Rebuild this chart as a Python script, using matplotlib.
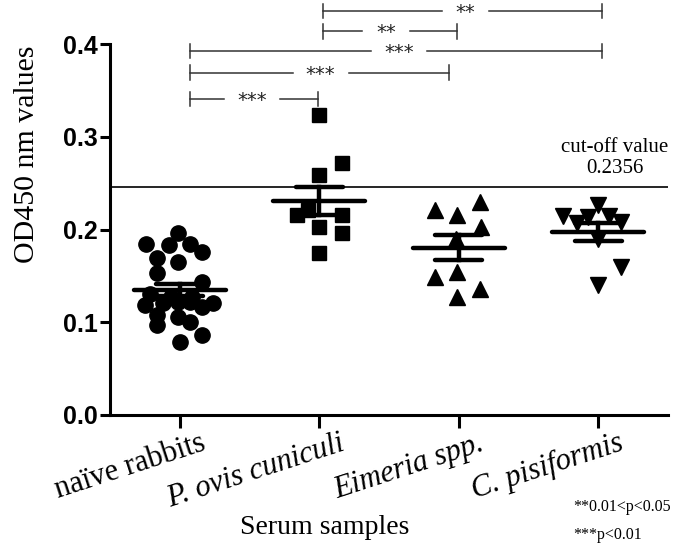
import matplotlib
matplotlib.use("Agg")
import matplotlib.pyplot as plt
import matplotlib.transforms as mtransforms
import numpy as np

categories = ["naïve rabbits", "P. ovis cuniculi", "Eimeria spp.", "C. pisiformis"]
cat_italic = [False, True, True, True]

naive_x = [-0.01, -0.24, -0.08, 0.07, 0.16, -0.16, -0.01, -0.16, 0.16,
           -0.21, -0.25, -0.12, -0.01, 0.07, 0.16, 0.24, -0.16, -0.01, 0.07,
           -0.16, 0.16, 0.00, -0.06, 0.09]
naive_y = [0.196, 0.184, 0.183, 0.184, 0.176, 0.169, 0.165, 0.153, 0.143,
           0.131, 0.119, 0.121, 0.122, 0.122, 0.117, 0.121, 0.108, 0.106, 0.100,
           0.097, 0.086, 0.079, 0.127, 0.127]
povis_x = [0.0, 0.16, 0.0, -0.16, -0.08, 0.0, 0.16, 0.16, 0.0]
povis_y = [0.3235, 0.2717, 0.2588, 0.2156, 0.2210, 0.2027, 0.2156, 0.1962, 0.1747]
eim_x = [0.15, -0.17, -0.01, 0.16, -0.02, -0.01, -0.17, 0.15, -0.01]
eim_y = [0.230, 0.221, 0.2156, 0.2027, 0.190, 0.154, 0.149, 0.1358, 0.127]
cpis_x = [0.0, -0.25, -0.15, -0.07, 0.08, 0.16, 0.0, 0.16, 0.0]
cpis_y = [0.2264, 0.2146, 0.207, 0.214, 0.2146, 0.208, 0.190, 0.1596, 0.140]

cutoff_line = 0.246
cutoff_label = "cut-off value\n0.2356"

# significance brackets: (x_start, x_end, y, label)
brackets = [(1.03, 3.03, 0.4356, "**"),
            (1.03, 1.99, 0.414, "**"),
            (0.07, 3.03, 0.3925, "***"),
            (0.07, 1.93, 0.369, "***"),
            (0.07, 0.99, 0.3407, "***")]
bracket_label_x = [2.05, 1.48, 1.57, 1.01, 0.52]

yticks = [0.0, 0.1, 0.2, 0.3, 0.4]

plt.rcParams['font.family'] = ['Liberation Serif', 'DejaVu Serif']

fig = plt.figure(figsize=(6.75, 5.55), dpi=100)
ax = fig.add_axes([110/675, 140/555, 558/675, 408/555])
ax.set_xlim(-0.5, 3.5)
ax.set_ylim(0, 0.44)

groups = [(naive_x, naive_y, 'o', 11), (povis_x, povis_y, 's', 10.5),
          (eim_x, eim_y, '^', 11.5), (cpis_x, cpis_y, 'v', 11.5)]
for i, (gx, gy, mk, ms) in enumerate(groups):
    gx = np.array(gx) + i
    gy = np.array(gy)
    ax.plot(gx, gy, linestyle='none', marker=mk, ms=ms, color='black', zorder=3)
    m = gy.mean()
    s = gy.std(ddof=1) / np.sqrt(len(gy))
    ax.plot([i - 0.33, i + 0.33], [m, m], color='black', lw=3.2,
            solid_capstyle='round', zorder=4)
    ax.plot([i - 0.17, i + 0.17], [m + s, m + s], color='black', lw=3.2,
            solid_capstyle='round', zorder=4)
    ax.plot([i - 0.17, i + 0.17], [m - s, m - s], color='black', lw=3.2,
            solid_capstyle='round', zorder=4)
    ax.plot([i, i], [m - s, m + s], color='black', lw=3.2, zorder=4)

ax.axhline(cutoff_line, color='black', lw=1.2, zorder=2)
ax.text(3.12, cutoff_line + 0.010, cutoff_label, ha='center', va='bottom',
        fontsize=15, linespacing=1.1)

for (x0, x1, y, lab), lx in zip(brackets, bracket_label_x):
    gap = 0.2 if len(lab) == 3 else 0.17
    ax.plot([x0, lx - gap], [y, y], color='#333333', lw=1.1, clip_on=False)
    ax.plot([lx + gap, x1], [y, y], color='#333333', lw=1.1, clip_on=False)
    for xe in (x0, x1):
        ax.plot([xe, xe], [y - 0.008, y + 0.008], color='#333333', lw=1.1,
                clip_on=False)
    ax.text(lx, y - 0.002, lab, ha='center', va='center', fontsize=14,
            family='DejaVu Sans', color='#222222', clip_on=False)

for sp in ['top', 'right']:
    ax.spines[sp].set_visible(False)
ax.spines['left'].set_bounds(0, 0.4)
ax.spines['left'].set_linewidth(2.2)
ax.spines['bottom'].set_linewidth(2.2)

ax.set_yticks(yticks)
ax.set_yticklabels([f"{v:.1f}" for v in yticks], family='Liberation Sans',
                   fontweight='bold', fontsize=18)
ax.tick_params(axis='y', length=7, width=2.2, pad=2)
ax.set_xticks(range(4))
ax.set_xticklabels([''] * 4)
ax.tick_params(axis='x', length=9, width=2.2, pad=4)

lab_tr = ax.get_xaxis_transform() + mtransforms.ScaledTranslation(
    0.20, -0.14, fig.dpi_scale_trans)
for i, (name, it) in enumerate(zip(categories, cat_italic)):
    ax.text(i, 0, name, transform=lab_tr, rotation=18, rotation_mode='anchor',
            ha='right', va='top', fontsize=22,
            fontstyle='italic' if it else 'normal')

ax.set_ylabel("OD450 nm values", fontsize=21.5)
ax.yaxis.set_label_coords(-0.125, 0.64)
fig.text(325/675, 1 - 528/555, "Serum samples", ha='center', va='center', fontsize=20)
fig.text(573/675, 1 - 507/555, "**0.01<p<0.05", ha='left', va='center', fontsize=11.5)
fig.text(573/675, 1 - 535/555, "***p<0.01", ha='left', va='center', fontsize=11.5)

fig.savefig("out.png", dpi=100)
